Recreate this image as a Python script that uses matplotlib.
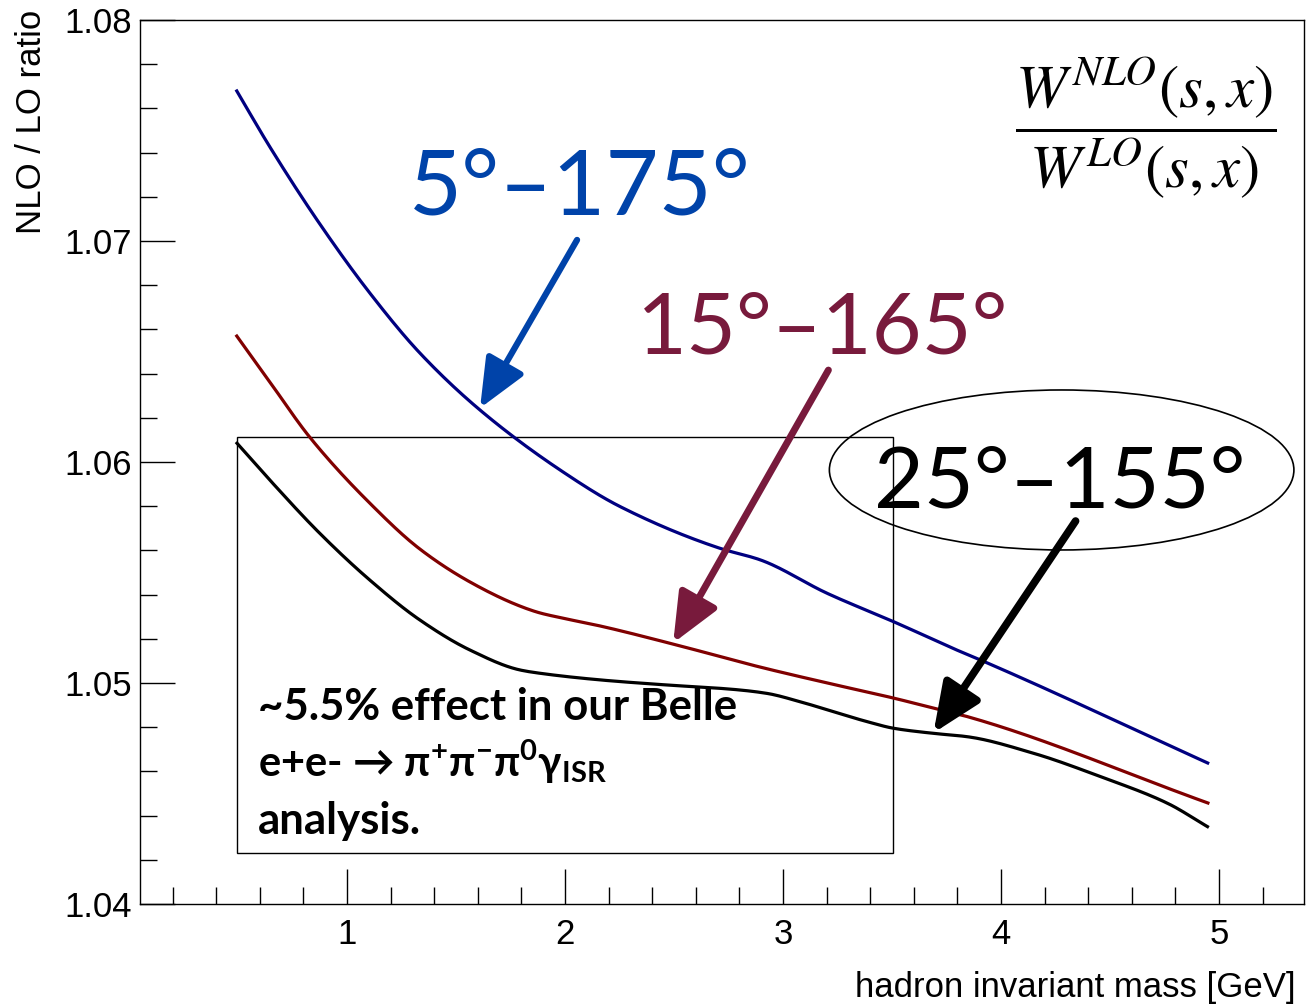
import numpy as np
import matplotlib
matplotlib.use('Agg')
import matplotlib.pyplot as plt
from matplotlib.ticker import MultipleLocator, FormatStrFormatter
from matplotlib.patches import Rectangle, Ellipse

plt.rcParams['font.family'] = ['Liberation Sans', 'DejaVu Sans']
plt.rcParams['mathtext.fontset'] = 'custom'
plt.rcParams['mathtext.rm'] = 'Lato:bold'
plt.rcParams['mathtext.bf'] = 'Lato:bold'
plt.rcParams['mathtext.it'] = 'Lato:bold'

# NLO/LO ratio curves
x_5_175 = [0.494, 0.645, 0.875, 1.104, 1.334, 1.610, 1.977, 2.253, 2.712,
           2.896, 3.202, 3.508, 3.814, 3.906, 4.948]
y_5_175 = [1.07679, 1.07427, 1.07077, 1.06765, 1.06493, 1.06235, 1.05964,
           1.05798, 1.05609, 1.05557, 1.05406, 1.05277, 1.05142, 1.05104, 1.04638]

x_15_165 = [0.494, 0.645, 0.829, 1.104, 1.334, 1.564, 1.793, 1.885, 1.977, 2.161,
            2.496, 2.895, 3.203, 3.506, 3.691, 3.845, 4.949]
y_15_165 = [1.06570, 1.06363, 1.06112, 1.05814, 1.05606, 1.05457, 1.05348, 1.05317,
            1.05296, 1.05258, 1.05176, 1.05072, 1.05000, 1.04932, 1.04886, 1.04848,
            1.04457]

x_25_155 = [0.495, 0.645, 0.875, 1.104, 1.334, 1.564, 1.793, 1.885, 2.161, 2.467,
            2.773, 2.926, 3.079, 3.232, 3.386, 3.508, 3.691, 3.845, 4.149, 4.457,
            4.763, 4.947]
y_25_155 = [1.06085, 1.05919, 1.05677, 1.05466, 1.05285, 1.05149, 1.05059, 1.05044,
            1.05014, 1.04991, 1.04971, 1.04953, 1.04915, 1.04870, 1.04825, 1.04795,
            1.04772, 1.04757, 1.04682, 1.04576, 1.04456, 1.04350]

labels = ['5°–175°', '15°–165°', '25°–155°']
label_cols = ['#0043A9', '#781A3C', 'black']


def smooth(x, y, n=400):
    # monotone cubic (pchip) through the read points, only for drawing
    x = np.asarray(x, float)
    y = np.asarray(y, float)
    h = np.diff(x)
    d = np.diff(y) / h
    m = np.zeros_like(y)
    m[0] = d[0]
    m[-1] = d[-1]
    for k in range(1, len(x) - 1):
        if d[k - 1] * d[k] <= 0:
            m[k] = 0.0
        else:
            w1 = 2 * h[k] + h[k - 1]
            w2 = h[k] + 2 * h[k - 1]
            m[k] = (w1 + w2) / (w1 / d[k - 1] + w2 / d[k])
    xn = np.linspace(x[0], x[-1], n)
    i = np.clip(np.searchsorted(x, xn) - 1, 0, len(x) - 2)
    t = (xn - x[i]) / h[i]
    h00 = 2 * t**3 - 3 * t**2 + 1
    h10 = t**3 - 2 * t**2 + t
    h01 = -2 * t**3 + 3 * t**2
    h11 = t**3 - t**2
    yn = h00 * y[i] + h10 * h[i] * m[i] + h01 * y[i + 1] + h11 * h[i] * m[i + 1]
    return xn, yn


f1 = plt.figure(1, figsize=(13.06, 10.07), dpi=100)
ax = f1.add_axes([0.1072, 0.1023, 0.8913, 0.8778])

ax.plot(*smooth(x_5_175, y_5_175), c='#000080', lw=2.3)
ax.plot(*smooth(x_15_165, y_15_165), c='#800000', lw=2.3)
ax.plot(*smooth(x_25_155, y_25_155), c='black', lw=2.3)

ax.set_xlim(0.05, 5.39)
ax.set_ylim(1.04, 1.08)
ax.xaxis.set_major_locator(MultipleLocator(1))
ax.xaxis.set_minor_locator(MultipleLocator(0.2))
ax.yaxis.set_major_locator(MultipleLocator(0.01))
ax.yaxis.set_minor_locator(MultipleLocator(0.002))
ax.xaxis.set_major_formatter(FormatStrFormatter('%d'))
ax.yaxis.set_major_formatter(FormatStrFormatter('%.2f'))
ax.tick_params(which='both', direction='in', top=False, right=False, width=1.0)
ax.tick_params(which='major', length=25, labelsize=25)
ax.tick_params(which='minor', length=12.5)
ax.tick_params(axis='x', pad=10)
ax.tick_params(axis='y', pad=6)
for s in ax.spines.values():
    s.set_linewidth(1.0)

# labels
f1.text(0.992, 0.0099, 'hadron invariant mass [GeV]', fontsize=25, ha='right', va='baseline')
f1.text(0.024, 0.99, 'NLO / LO ratio', fontsize=25, rotation=90, ha='center', va='top')

# box and its text
ax.add_patch(Rectangle((0.495, 1.04231), 3.011, 0.01882, fill=False, ec='black', lw=1.0))
bfont = ['Lato', 'DejaVu Sans']
ax.text(0.590, 1.04833, '~5.5% effect in our Belle', family=bfont, weight='bold',
        fontsize=31.5, ha='left', va='baseline')
ax.text(0.590, 1.04575, r'e+e- → π$^{+}$π$^{-}$π$^{0}$γ$_{\mathrm{ISR}}$', family=bfont,
        weight='bold', fontsize=30, ha='left', va='baseline')
ax.text(0.590, 1.04317, 'analysis.', family=bfont, weight='bold',
        fontsize=31.5, ha='left', va='baseline')

# angle range labels with arrows
ax.text(2.069, 1.07118, labels[0], family='Lato', fontsize=66, color=label_cols[0],
        ha='center', va='baseline')
ax.text(3.183, 1.06493, labels[1], family='Lato', fontsize=62, color=label_cols[1],
        ha='center', va='baseline')
ax.text(4.271, 1.05796, labels[2], family='Lato', fontsize=62, color=label_cols[2],
        ha='center', va='baseline')
ax.add_patch(Ellipse((4.278, 1.05964), 2.131, 0.00724, fill=False, ec='black', lw=1.2))

ax.annotate('', xy=(1.610, 1.06244), xytext=(2.055, 1.07005),
            arrowprops=dict(arrowstyle='-|>,head_length=1.5,head_width=0.65', lw=4.5,
                            color=label_cols[0], mutation_scale=20, shrinkA=0, shrinkB=0))
ax.annotate('', xy=(2.496, 1.05181), xytext=(3.208, 1.06416),
            arrowprops=dict(arrowstyle='-|>,head_length=1.5,head_width=0.65', lw=5,
                            color=label_cols[1], mutation_scale=20, shrinkA=0, shrinkB=0))
ax.annotate('', xy=(3.690, 1.04774), xytext=(4.342, 1.05733),
            arrowprops=dict(arrowstyle='-|>,head_length=1.5,head_width=0.65', lw=5.5,
                            color=label_cols[2], mutation_scale=20, shrinkA=0, shrinkB=0))

# formula
f1.text(0.8776, 0.873, r'$\dfrac{W^{NLO}\left(s,x\right)}{W^{LO}\left(s,x\right)}$',
        fontsize=44, math_fontfamily='stix', ha='center', va='center')

plt.savefig('out.png', dpi=100)
